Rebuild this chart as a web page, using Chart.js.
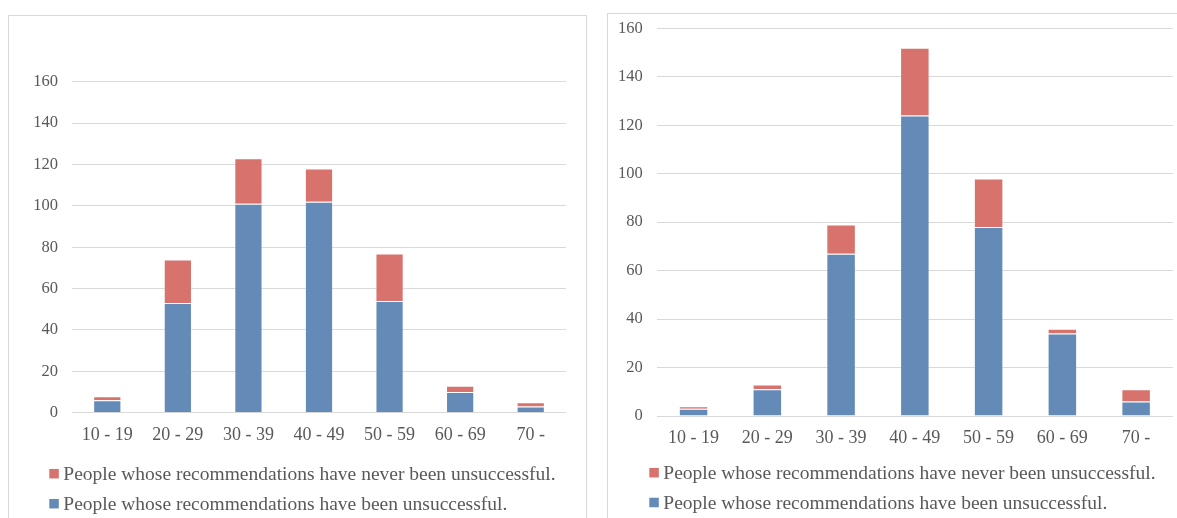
<!DOCTYPE html>
<html>
<head>
<meta charset="utf-8">
<script src="https://cdn.jsdelivr.net/npm/chart.js@4/dist/chart.umd.min.js"></script>
<style>
  html, body { margin: 0; padding: 0; background: #fff; overflow: hidden; width: 1177px; height: 518px; }
  .panel { position: absolute; border: 1px solid #d9d9d9; background: #fff; }
  #panelA { left: 8px; top: 15px; width: 577px; height: 520px; }
  #panelB { left: 607px; top: 13px; width: 600px; height: 520px; }
  canvas { display: block; }
</style>
</head>
<body>
<div class="panel" id="panelA"><canvas id="chartA" width="577" height="502"></canvas></div>
<div class="panel" id="panelB"><canvas id="chartB" width="569" height="504"></canvas></div>
<script>
// Age groups on the category axis
const ageGroups = ['10 - 19', '20 - 29', '30 - 39', '40 - 49', '50 - 59', '60 - 69', '70 -'];

// Series names
const labelBeenUnsuccessful = 'People whose recommendations have been unsuccessful.';
const labelNeverUnsuccessful = 'People whose recommendations have never been unsuccessful.';

// First panel: counts per age group
const firstBeenUnsuccessful = [6, 53, 101, 102, 54, 10, 3];
const firstNeverUnsuccessful = [2, 21, 22, 16, 23, 3, 2];

// Second panel: counts per age group
const secondBeenUnsuccessful = [3, 11, 67, 124, 78, 34, 6];
const secondNeverUnsuccessful = [1, 2, 12, 28, 20, 2, 5];

// Value axis
const valueMin = 0;
const valueMax = 160;
const valueStep = 20;

const BLUE = '#648bb8';
const RED = '#d7726d';
const TEXT = '#595959';
const GRID = '#d9d9d9';
const SERIF = '"Liberation Serif", "Times New Roman", serif';

// Legend stacked in rows under the axis, topmost series first
const rowLegend = {
  id: 'rowLegend',
  afterDraw(chart, args, opts) {
    const ctx = chart.ctx;
    const base = chart.chartArea.bottom;
    ctx.save();
    ctx.font = opts.fontSize + 'px ' + SERIF;
    ctx.textBaseline = 'alphabetic';
    ctx.textAlign = 'left';
    chart.data.datasets.slice().reverse().forEach((ds, i) => {
      const cy = base + opts.firstRow + i * opts.rowGap;
      ctx.fillStyle = ds.backgroundColor;
      ctx.fillRect(opts.x, cy - opts.box / 2, opts.box, opts.box);
      ctx.fillStyle = TEXT;
      ctx.fillText(ds.label, opts.textX, cy + opts.capHalf);
    });
    ctx.restore();
  }
};

function buildChart(id, been, never, g) {
  return new Chart(document.getElementById(id), {
    type: 'bar',
    data: {
      labels: ageGroups,
      datasets: [
        { label: labelBeenUnsuccessful, data: been, backgroundColor: BLUE,
          borderColor: 'rgba(255,255,255,0.35)', borderWidth: 1 },
        { label: labelNeverUnsuccessful, data: never, backgroundColor: RED,
          borderColor: 'rgba(255,255,255,0.35)', borderWidth: 1 }
      ]
    },
    options: {
      responsive: false,
      animation: false,
      devicePixelRatio: 1,
      barPercentage: 0.4,
      categoryPercentage: 1.0,
      layout: { padding: { left: 0, right: g.padRight, top: g.padTop, bottom: g.padBottom } },
      plugins: {
        legend: { display: false },
        tooltip: { enabled: false },
        rowLegend: g.legend
      },
      scales: {
        x: {
          stacked: true,
          grid: { display: false, drawTicks: false },
          border: { display: false },
          ticks: { color: TEXT, font: { family: SERIF, size: 18 }, padding: g.xPad, maxRotation: 0, autoSkip: false },
          afterFit: (s) => { s.height = 40; s.paddingLeft = 0; s.paddingRight = 0; }
        },
        y: {
          stacked: true,
          min: valueMin,
          max: valueMax,
          grid: { color: GRID, lineWidth: 1, drawTicks: false },
          border: { display: false },
          ticks: { stepSize: valueStep, color: TEXT, font: { family: SERIF, size: 16.5 }, padding: 14 },
          afterFit: (s) => { s.width = g.yWidth; s.paddingTop = 0; s.paddingBottom = 0; }
        }
      }
    },
    plugins: [rowLegend]
  });
}

buildChart('chartA', firstBeenUnsuccessful, firstNeverUnsuccessful, {
  padRight: 20, padTop: 65.7, padBottom: 65.3, yWidth: 63, xPad: 11.5,
  legend: { x: 40.3, textX: 54.3, firstRow: 61, rowGap: 30, box: 9.5, fontSize: 19.5, capHalf: 6.5 }
});

buildChart('chartB', secondBeenUnsuccessful, secondNeverUnsuccessful, {
  padRight: 4, padTop: 14.3, padBottom: 62, yWidth: 48.7, xPad: 11,
  legend: { x: 41.3, textX: 55.3, firstRow: 56.7, rowGap: 29.8, box: 9.5, fontSize: 19.5, capHalf: 6.5 }
});
</script>
</body>
</html>
